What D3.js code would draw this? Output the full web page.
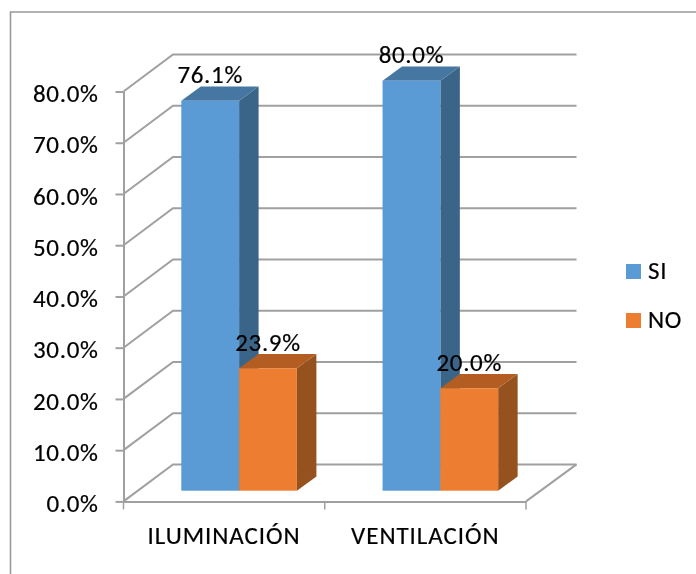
<!DOCTYPE html>
<html lang="es">
<head>
<meta charset="utf-8">
<title>Iluminación y ventilación</title>
<script src="https://cdn.jsdelivr.net/npm/d3@7"></script>
<style>
html,body{margin:0;padding:0;background:#fff}
svg{display:block;font-family:Carlito,Lato,"Open Sans",sans-serif;filter:blur(0.35px)}
.lbl{font-size:25px;letter-spacing:0.65px;fill:#000;stroke:#000;stroke-width:0.2px}
.cat{letter-spacing:0.95px}
</style>
</head>
<body>
<svg id="chart" width="696" height="574"></svg>
<script>
const categories = ["ILUMINACIÓN", "VENTILACIÓN"];
const seriesNames = ["SI", "NO"];
const siValues = [76.1, 80.0];
const noValues = [23.9, 20.0];
const yTicks = [0, 10, 20, 30, 40, 50, 60, 70, 80];
const seriesColors = {
  SI: {front: "#5B9BD5", top: "#4676A2", side: "#3A6488"},
  NO: {front: "#ED7D31", top: "#B35D22", side: "#96521E"}
};

const svg = d3.select("#chart");
const gridColor = "#A0A0A0";
const wall = {dx: 49.5, dy: -37};
const depth = {dx: 19.5, dy: -14.3};
const lift = 10.7;          // bars stand this far above the front floor edge
const barInset = 57.8;      // front-left corner of a bar from its band start
const barW = 57.8;

const y = d3.scaleLinear().domain([0, 80]).range([501.4, 91.5]);
const x = d3.scaleBand().domain(categories).range([123.5, 526]);
const xs = d3.scaleBand().domain(seriesNames).range([barInset, barInset + 2 * barW]);

// outer frame (left and top only are visible)
svg.append("path").attr("d", "M10.5,574V12H696").attr("fill", "none")
  .attr("stroke", "#999").attr("stroke-width", 1.6);

// walls
const grid = svg.append("g").attr("fill", "none").attr("stroke", gridColor).attr("stroke-width", 2);
grid.selectAll("path").data(yTicks).join("path")
  .attr("d", d => {
    const p = d3.path();
    p.moveTo(x.range()[0], y(d));
    p.lineTo(x.range()[0] + wall.dx, y(d) + wall.dy);
    p.lineTo(x.range()[1] + wall.dx + 1, y(d) + wall.dy);
    return p.toString();
  });
grid.append("path").attr("d", () => {
  const p = d3.path();
  p.moveTo(x.range()[1], y(0));
  p.lineTo(x.range()[1] + wall.dx + 1, y(0) + wall.dy);
  return p.toString();
});

// axes
const yAxis = d3.axisLeft(y).tickValues(yTicks).tickSize(8).tickSizeOuter(0).tickPadding(17)
  .tickFormat(d => d3.format(".1%")(d / 100));
const yG = svg.append("g").attr("transform", "translate(123.5,0)").call(yAxis);
const xAxis = d3.axisBottom(x).tickSize(0).tickPadding(25);
const xG = svg.append("g").attr("transform", "translate(0,501.4)").call(xAxis);
[yG, xG].forEach(g => {
  g.attr("font-family", null).attr("font-size", null);
  g.selectAll("path,line").attr("stroke", gridColor).attr("stroke-width", 2);
  g.selectAll("text").attr("class", "lbl").attr("fill", null);
});
xG.selectAll("text").attr("class", "lbl cat");
yG.selectAll("text").attr("dy", "0.41em");
xG.selectAll(".boundary").data(x.domain().map(d => x(d)).concat(x.range()[1])).join("line")
  .attr("class", "boundary").attr("x1", d => d).attr("x2", d => d)
  .attr("y1", 0).attr("y2", 8).attr("stroke", gridColor).attr("stroke-width", 1.5);

// bars
const rows = categories.flatMap((c, i) => [
  {cat: c, name: "SI", value: siValues[i]},
  {cat: c, name: "NO", value: noValues[i]}
]);
const bar = svg.append("g").selectAll("g").data(rows).join("g");
const x0 = d => x(d.cat) + xs(d.name);
const yT = d => y(d.value) - lift;
const yB = () => y(0) - lift;
const poly = pts => "M" + pts.map(p => p.join(",")).join("L") + "Z";

bar.append("path").attr("fill", d => seriesColors[d.name].side)
  .attr("d", d => poly([
    [x0(d) + barW, yT(d)], [x0(d) + barW + depth.dx, yT(d) + depth.dy],
    [x0(d) + barW + depth.dx, yB() + depth.dy], [x0(d) + barW, yB()]
  ]));
bar.append("path").attr("fill", d => seriesColors[d.name].top)
  .attr("d", d => poly([
    [x0(d), yT(d)], [x0(d) + depth.dx, yT(d) + depth.dy],
    [x0(d) + barW + depth.dx, yT(d) + depth.dy], [x0(d) + barW, yT(d)]
  ]));
bar.append("rect").attr("fill", d => seriesColors[d.name].front)
  .attr("x", x0).attr("y", yT).attr("width", barW).attr("height", d => yB() - yT(d));

// data labels
svg.append("g").selectAll("text").data(rows).join("text")
  .attr("class", "lbl")
  .attr("x", d => x0(d) + barW / 2)
  .attr("y", d => yT(d) - 17.4)
  .attr("text-anchor", "middle")
  .text(d => d3.format(".1f")(d.value) + "%");

// legend
const legend = svg.append("g").selectAll("g").data(seriesNames).join("g")
  .attr("transform", (d, i) => `translate(626,${264 + i * 49})`);
legend.append("rect").attr("width", 15).attr("height", 15).attr("fill", d => seriesColors[d].front);
legend.append("text").attr("class", "lbl").attr("x", 22).attr("y", 15).text(d => d);
</script>
</body>
</html>
